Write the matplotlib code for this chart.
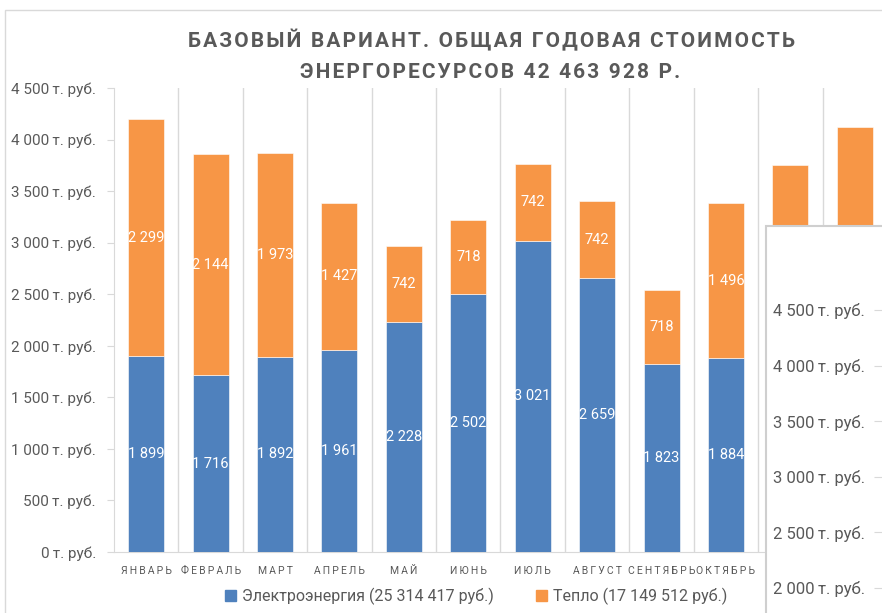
import matplotlib
matplotlib.use('Agg')
import matplotlib.pyplot as plt
from matplotlib.patches import Rectangle
from matplotlib.ticker import FuncFormatter

plt.rcParams['font.family'] = ['Roboto', 'DejaVu Sans']

# data (тыс. руб.)
months = ['ЯНВАРЬ', 'ФЕВРАЛЬ', 'МАРТ', 'АПРЕЛЬ', 'МАЙ', 'ИЮНЬ', 'ИЮЛЬ',
          'АВГУСТ', 'СЕНТЯБРЬ', 'ОКТЯБРЬ', 'НОЯБРЬ', 'ДЕКАБРЬ']
elec = [1899, 1716, 1892, 1961, 2228, 2502, 3021, 2659, 1823, 1884, 1850, 1879]
heat = [2299, 2144, 1973, 1427, 742, 718, 742, 742, 718, 1496, 1903, 2246]
elec_name = 'Электроэнергия (25 314 417 руб.)'
heat_name = 'Тепло (17 149 512 руб.)'
title_lines = ['БАЗОВЫЙ ВАРИАНТ. ОБЩАЯ ГОДОВАЯ СТОИМОСТЬ',
               'ЭНЕРГОРЕСУРСОВ 42 463 928 Р.']
main_ticks = [0, 500, 1000, 1500, 2000, 2500, 3000, 3500, 4000, 4500]
overlay_ticks = [2000, 2500, 3000, 3500, 4000, 4500]

BLUE = '#4F81BD'
ORANGE = '#F79646'
GREY = '#595959'
LINE = '#d9d9d9'

W, H = 882, 613


def spaced(s, sp='\u200a'):
    return sp.join(s)


def rub(v, pos=None):
    return f'{int(v):,}'.replace(',', ' ') + '\u2009т. руб.'


fig = plt.figure(figsize=(W / 100, H / 100), dpi=100)

# chart frame
fig.patches.append(Rectangle((5 / W, -0.1), 1.2, 1 - 10 / H + 0.1,
                             transform=fig.transFigure, fill=False,
                             edgecolor=LINE, lw=1))

ax = fig.add_axes([114 / W, 61 / H, 773 / W, 464 / H])
x = list(range(len(months)))
ax.bar(x, elec, width=0.56, color=BLUE, edgecolor='white', lw=0.4, zorder=3)
ax.bar(x, heat, width=0.56, bottom=elec, color=ORANGE, edgecolor='white',
       lw=0.4, zorder=3)
for i in x:
    ax.text(i, elec[i] / 2, f'{elec[i]:,}'.replace(',', ' '), color='white',
            ha='center', va='center', fontsize=10.5, zorder=4)
    ax.text(i, elec[i] + heat[i] / 2, f'{heat[i]:,}'.replace(',', ' '),
            color='white', ha='center', va='center', fontsize=10.5, zorder=4)

ax.set_xlim(-0.5, 11.5)
ax.set_ylim(0, 4500)
ax.set_yticks(main_ticks)
ax.yaxis.set_major_formatter(FuncFormatter(rub))
ax.set_xticks(x)
ax.set_xticklabels([spaced(m, '\u2009') for m in months], fontsize=7.5,
                   color=GREY)
ax.set_xticks([i + 0.5 for i in x], minor=True)
ax.grid(axis='x', which='minor', color=LINE, lw=1, zorder=0)
ax.tick_params(axis='x', which='both', length=0, pad=10)
ax.tick_params(axis='y', length=5, color=LINE, labelsize=11,
               labelcolor=GREY, pad=8)
for s in ['top', 'right']:
    ax.spines[s].set_visible(False)
ax.spines['left'].set_color(LINE)
ax.spines['bottom'].set_color(LINE)

# title
fig.text(491 / W, 1 - 40 / H, spaced(title_lines[0]), ha='center',
         va='center', fontsize=15, fontweight='bold', color=GREY)
fig.text(490 / W, 1 - 72 / H, spaced(title_lines[1]), ha='center',
         va='center', fontsize=15, fontweight='bold', color=GREY)

# legend
h1 = Rectangle((0, 0), 1, 1, color=BLUE)
h2 = Rectangle((0, 0), 1, 1, color=ORANGE)
fig.legend([h1, h2], [elec_name, heat_name], loc='center',
           bbox_to_anchor=(476 / W, 1 - 596 / H), ncol=2, frameon=False,
           fontsize=11.5, labelcolor=GREY, handlelength=0.7,
           handleheight=0.7, handletextpad=0.4, columnspacing=2.6)

# overlapping window with another axis
ov = fig.add_axes([766 / W, -10 / H, 126 / W, 397 / H], zorder=10)
ov.set_facecolor('white')
ov.patch.set_edgecolor('#cfcfcf')
ov.patch.set_linewidth(1.5)
ov.set_xticks([])
ov.set_ylim(1685, 5255)
ov.set_yticks(overlay_ticks)
ov.yaxis.set_major_formatter(FuncFormatter(rub))
for s in ['top', 'right', 'bottom']:
    ov.spines[s].set_visible(False)
ov.spines['left'].set_position(('axes', 116 / 126))
ov.spines['left'].set_visible(False)
ov.tick_params(axis='y', length=6, color=LINE, labelsize=12,
               labelcolor=GREY, pad=6)

fig.savefig('out.png', dpi=100)
